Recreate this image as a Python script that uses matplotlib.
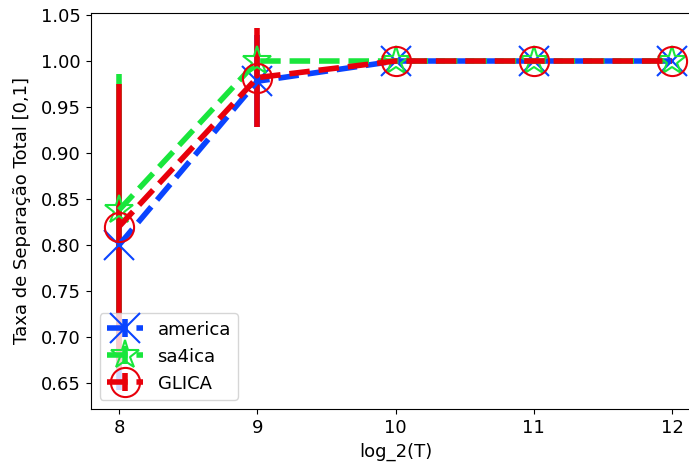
import numpy as np
import matplotlib.pyplot as plt

log_T = [8, 9, 10, 11, 12]

america_mean = [0.80, 0.978, 1.0, 1.0, 1.0]
america_err = [0.158, 0.05, 0.0, 0.0, 0.0]

sa4ica_mean = [0.838, 1.0, 1.0, 1.0, 1.0]
sa4ica_err = [0.148, 0.0, 0.0, 0.0, 0.0]

glica_mean = [0.82, 0.982, 1.0, 1.0, 1.0]
glica_err = [0.155, 0.054, 0.0, 0.0, 0.0]

blue = '#0a44ff'
green = '#19e63c'
red = '#e8000b'

plt.rcParams['font.size'] = 13

fig = plt.figure(figsize=(6.89, 4.65), dpi=100)
ax = fig.add_axes([90.7 / 689, 1 - 409 / 465, (700.4 - 90.7) / 689, (409 - 13) / 465])

ax.errorbar(log_T, america_mean, yerr=america_err, color=blue, linestyle='--', lw=4,
            elinewidth=4, marker='x', markersize=21, markeredgewidth=1.5,
            mfc='none', label='america')
ax.errorbar(log_T, sa4ica_mean, yerr=sa4ica_err, color=green, linestyle='--', lw=4,
            elinewidth=4, marker='*', markersize=21, markeredgewidth=1.5,
            mfc='none', label='sa4ica')
ax.errorbar(log_T, glica_mean, yerr=glica_err, color=red, linestyle='--', lw=4,
            elinewidth=4, marker='o', markersize=21, markeredgewidth=1.5,
            mfc='none', label='GLICA')

ax.set_xlim(7.795, 12.205)
ax.set_ylim(0.6217, 1.0522)
ax.set_xticks(log_T)
ax.set_yticks(np.arange(0.65, 1.051, 0.05))
ax.set_xlabel('log_2(T)')
ax.set_ylabel('Taxa de Separação Total [0,1]', labelpad=7)
ax.legend(loc='lower left')

fig.savefig('out.png', dpi=100)
